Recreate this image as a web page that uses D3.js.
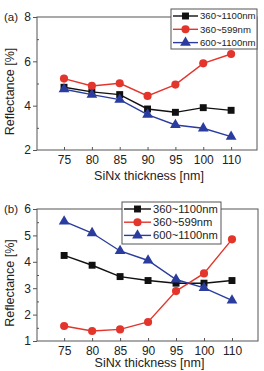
<!DOCTYPE html>
<html>
<head>
<meta charset="utf-8">
<script src="https://cdn.jsdelivr.net/npm/d3@7"></script>
<style>
  body { margin: 0; background: #fff; }
  svg { display: block; font-family: "Liberation Sans", Arial, sans-serif; }
</style>
</head>
<body>
<svg id="chart" width="264" height="371"></svg>
<script>
// categories (SiNx thickness, nm)
const thickness = ["75", "80", "85", "90", "95", "100", "110"];
const seriesNames = ["360~1100nm", "360~599nm", "600~1100nm"];

// panel (a)
const aAll  = [4.83, 4.62, 4.50, 3.85, 3.70, 3.91, 3.79];
const aRed  = [5.22, 4.89, 5.01, 4.44, 4.95, 5.91, 6.33];
const aLong = [4.74, 4.50, 4.27, 3.60, 3.13, 2.98, 2.60];
const aTicks = [2, 4, 6, 8];

// panel (b)
const bAll  = [4.24, 3.87, 3.44, 3.29, 3.19, 3.19, 3.29];
const bRed  = [1.57, 1.38, 1.44, 1.72, 2.89, 3.56, 4.85];
const bLong = [5.53, 5.09, 4.41, 4.05, 3.33, 3.01, 2.54];
const bTicks = [1, 2, 3, 4, 5, 6];

const colors = ["#111111", "#e3352b", "#2a3c9e"];
const shapes = [d3.symbolSquare, d3.symbolCircle, d3.symbolTriangle];
const sizes = [48, 52, 50];

let svg = d3.select("#chart");

function panel(p) {
    let g = svg.append("g");

    let x = d3.scaleLinear()
        .domain([-0.97, 6.93])
        .range([p.left, p.right]);

    let y = d3.scaleLinear()
        .domain(p.domain)
        .range([p.bottom, p.top]);

    // frame
    g.append("rect")
        .attr("x", p.left).attr("y", p.top)
        .attr("width", p.right - p.left).attr("height", p.bottom - p.top)
        .attr("fill", "none").attr("stroke", "#555").attr("stroke-width", 1);

    // y axis: major ticks outside, minor inside
    let minor = d3.range(p.domain[0] + p.step / 2, p.domain[1], p.step);
    g.append("g")
        .attr("transform", "translate(" + p.left + ",0)")
        .call(d3.axisLeft(y).tickValues(p.yTicks).tickSize(4).tickPadding(2).tickFormat(d3.format("d")))
        .call(a => a.select(".domain").remove())
        .call(a => a.selectAll("line").attr("stroke", "#555"))
        .call(a => a.selectAll("text").attr("font-size", 12).attr("fill", "#222").attr("font-family", null));
    g.append("g")
        .attr("transform", "translate(" + p.left + ",0)")
        .call(d3.axisRight(y).tickValues(minor).tickSize(2).tickFormat(""))
        .call(a => a.select(".domain").remove())
        .call(a => a.selectAll("line").attr("stroke", "#555"));

    // x axis: ticks inside
    g.append("g")
        .attr("transform", "translate(0," + p.bottom + ")")
        .call(d3.axisTop(x).tickValues(d3.range(thickness.length)).tickSize(3).tickFormat(""))
        .call(a => a.select(".domain").remove())
        .call(a => a.selectAll("line").attr("stroke", "#555"));
    g.append("g")
        .attr("transform", "translate(0," + p.bottom + ")")
        .call(d3.axisBottom(x).tickValues(d3.range(thickness.length)).tickSize(0).tickPadding(5)
            .tickFormat(i => thickness[i]))
        .call(a => a.select(".domain").remove())
        .call(a => a.selectAll("text").attr("font-size", 12).attr("fill", "#222").attr("font-family", null));

    // axis titles
    g.append("text")
        .attr("x", (p.left + p.right) / 2 + 2).attr("y", p.bottom + p.titleGap)
        .attr("text-anchor", "middle").attr("font-size", 12.5).attr("fill", "#222")
        .text("SiNx thickness [nm]");
    g.append("text")
        .attr("transform", "translate(14," + ((p.top + p.bottom) / 2 + 8) + ") rotate(-90)")
        .attr("text-anchor", "middle").attr("font-size", 12.5).attr("fill", "#222")
        .text("Reflectance [%]");
    g.append("text")
        .attr("x", 4).attr("y", p.top + 4)
        .attr("font-size", 11.5).attr("fill", "#222")
        .text(p.label);

    let line = d3.line()
        .x((d, i) => x(i))
        .y(d => y(d));

    p.series.forEach(function (s, k) {
        g.append("path")
            .datum(s)
            .attr("d", line)
            .attr("fill", "none")
            .attr("stroke", colors[k])
            .attr("stroke-width", 1.4);
        g.selectAll(null)
            .data(s)
            .join("path")
            .attr("transform", (d, i) => "translate(" + x(i) + "," + y(d) + ")")
            .attr("d", d3.symbol().type(shapes[k]).size(sizes[k]))
            .attr("fill", colors[k]);
    });

    // legend
    let lg = g.append("g");
    lg.append("rect")
        .attr("x", p.lx).attr("y", p.ly)
        .attr("width", p.lw).attr("height", p.lh)
        .attr("fill", "#fff").attr("stroke", "#555");
    seriesNames.forEach(function (name, k) {
        let cy = p.ly + 7 + k * p.lrow;
        lg.append("line")
            .attr("x1", p.lx + 2).attr("x2", p.lx + 2 + p.llen)
            .attr("y1", cy).attr("y2", cy)
            .attr("stroke", colors[k]).attr("stroke-width", 1.4);
        lg.append("path")
            .attr("transform", "translate(" + (p.lx + 2 + p.llen / 2) + "," + cy + ")")
            .attr("d", d3.symbol().type(shapes[k]).size(sizes[k]))
            .attr("fill", colors[k]);
        lg.append("text")
            .attr("x", p.lx + 4 + p.llen).attr("y", cy + p.lfont * 0.36)
            .attr("font-size", p.lfont).attr("fill", "#222")
            .text(name);
    });
}

panel({
    label: "(a)", domain: [2, 8], step: 2, yTicks: aTicks,
    left: 37, right: 257, top: 17, bottom: 150, titleGap: 30,
    series: [aAll, aRed, aLong],
    lx: 171, ly: 9, lw: 86, lh: 40, lrow: 13.3, llen: 25, lfont: 9.6
});

panel({
    label: "(b)", domain: [1, 6], step: 1, yTicks: bTicks,
    left: 37, right: 258, top: 209, bottom: 341, titleGap: 26,
    series: [bAll, bRed, bLong],
    lx: 122, ly: 202, lw: 99, lh: 42, lrow: 13.2, llen: 27, lfont: 11.2
});
</script>
</body>
</html>
